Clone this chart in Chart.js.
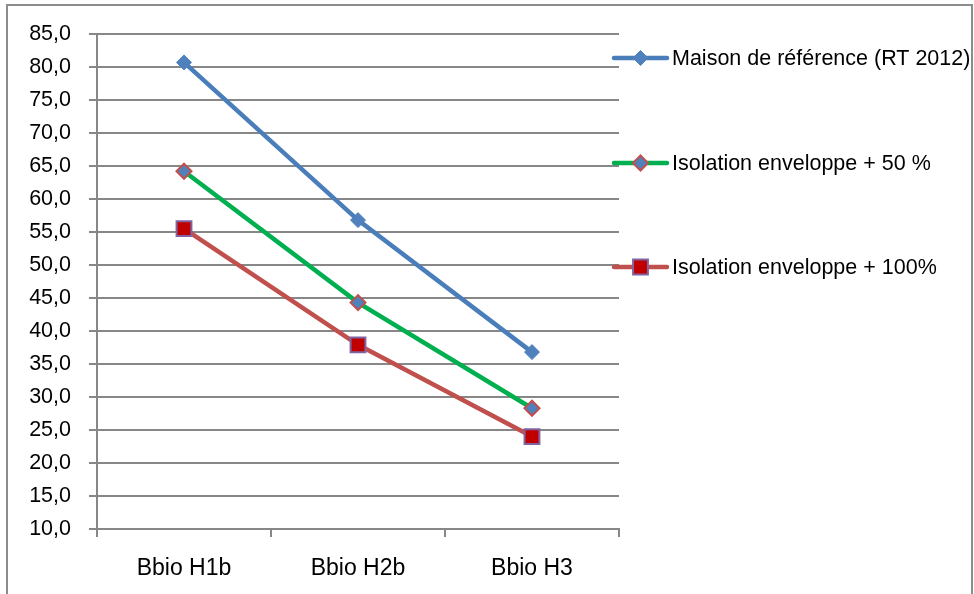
<!DOCTYPE html>
<html>
<head>
<meta charset="utf-8">
<script src="https://cdn.jsdelivr.net/npm/chart.js@4"></script>
<style>
  html, body { margin: 0; padding: 0; background: #ffffff; }
  #wrap { width: 974px; height: 594px; }
</style>
</head>
<body>
<div id="wrap"><canvas id="bbioChart" width="974" height="594"></canvas></div>
<script>
const categories = ["Bbio H1b", "Bbio H2b", "Bbio H3"];
const seriesNames = [
  "Maison de référence (RT 2012)",
  "Isolation enveloppe + 50 %",
  "Isolation enveloppe + 100%",
];
const maisonRef = [80.7, 56.8, 36.8];
const isolation50 = [64.2, 44.3, 28.3];
const isolation100 = [55.5, 37.9, 24.0];
const yTicks = { min: 10, max: 85, step: 5 };

const fontFamily = "'Liberation Sans', Arial, sans-serif";
const fontSize = 21.5;
const gridColor = "#878787";

// legend rows placed like the original (y of each row)
const legendRows = [58, 163, 267];

function drawMarker(ctx, style, x, y, r, fill, stroke, bw) {
  ctx.save();
  ctx.beginPath();
  if (style === "rect") {
    let s = r * Math.SQRT1_2;
    ctx.rect(x - s, y - s, 2 * s, 2 * s);
  } else {
    ctx.moveTo(x, y - r);
    ctx.lineTo(x + r, y);
    ctx.lineTo(x, y + r);
    ctx.lineTo(x - r, y);
    ctx.closePath();
  }
  ctx.fillStyle = fill;
  ctx.fill();
  ctx.lineWidth = bw;
  ctx.strokeStyle = stroke;
  ctx.stroke();
  ctx.restore();
}

const frameAndLegend = {
  id: "frameAndLegend",
  beforeDraw(chart) {
    let ctx = chart.ctx;
    ctx.save();
    ctx.strokeStyle = "#8c8c8c";
    ctx.lineWidth = 2;
    ctx.strokeRect(7, 5, 965, 620);
    ctx.restore();
  },
  afterDatasetsDraw(chart) {
    let ctx = chart.ctx;
    chart.data.datasets.forEach((ds, i) => {
      let y = legendRows[i];
      ctx.save();
      ctx.strokeStyle = ds.borderColor;
      ctx.lineWidth = ds.borderWidth;
      ctx.lineCap = "round";
      ctx.beginPath();
      ctx.moveTo(614, y);
      ctx.lineTo(667, y);
      ctx.stroke();
      ctx.restore();
      drawMarker(ctx, ds.pointStyle, 640.5, y, ds.pointRadius,
        ds.pointBackgroundColor, ds.pointBorderColor, ds.pointBorderWidth);
      ctx.save();
      ctx.fillStyle = "#000000";
      ctx.font = fontSize + "px " + fontFamily;
      ctx.textBaseline = "middle";
      ctx.fillText(ds.label, 672, y + 1);
      ctx.restore();
    });
  },
};

new Chart(document.getElementById("bbioChart"), {
  type: "line",
  data: {
    labels: categories,
    datasets: [
      {
        label: seriesNames[0],
        data: maisonRef,
        borderColor: "#4a7ebb",
        borderWidth: 4.5,
        pointStyle: "rectRot",
        pointRadius: 7.5,
        pointBackgroundColor: "#4f81bd",
        pointBorderColor: "#4f81bd",
        pointBorderWidth: 1,
        tension: 0,
      },
      {
        label: seriesNames[1],
        data: isolation50,
        borderColor: "#00b050",
        borderWidth: 4.5,
        pointStyle: "rectRot",
        pointRadius: 7.5,
        pointBackgroundColor: "#4f81bd",
        pointBorderColor: "#c0504d",
        pointBorderWidth: 2,
        tension: 0,
      },
      {
        label: seriesNames[2],
        data: isolation100,
        borderColor: "#c0504d",
        borderWidth: 4.5,
        pointStyle: "rect",
        pointRadius: 10.5,
        pointBackgroundColor: "#c00000",
        pointBorderColor: "#8064a2",
        pointBorderWidth: 2,
        tension: 0,
      },
    ],
  },
  options: {
    responsive: false,
    animation: false,
    layout: { padding: { top: 34, right: 355, bottom: 0, left: 0 } },
    plugins: { legend: { display: false }, tooltip: { enabled: false } },
    scales: {
      x: {
        offset: true,
        grid: {
          offset: true,
          drawOnChartArea: false,
          drawTicks: true,
          tickLength: 8,
          color: gridColor,
          lineWidth: 2,
        },
        border: { display: true, color: gridColor, width: 2 },
        ticks: {
          color: "#000000",
          padding: 18,
          font: { family: fontFamily, size: 23 },
        },
        afterFit(scale) { scale.height = 65; },
      },
      y: {
        min: yTicks.min,
        max: yTicks.max,
        grid: {
          color: gridColor,
          lineWidth: 2,
          drawTicks: true,
          tickLength: 8,
        },
        border: { display: true, color: gridColor, width: 2 },
        ticks: {
          stepSize: yTicks.step,
          color: "#000000",
          padding: 18,
          font: { family: fontFamily, size: fontSize },
          callback: (v) => v.toFixed(1).replace(".", ","),
        },
        afterFit(scale) { scale.width = 97; },
      },
    },
  },
  plugins: [frameAndLegend],
});
</script>
</body>
</html>
